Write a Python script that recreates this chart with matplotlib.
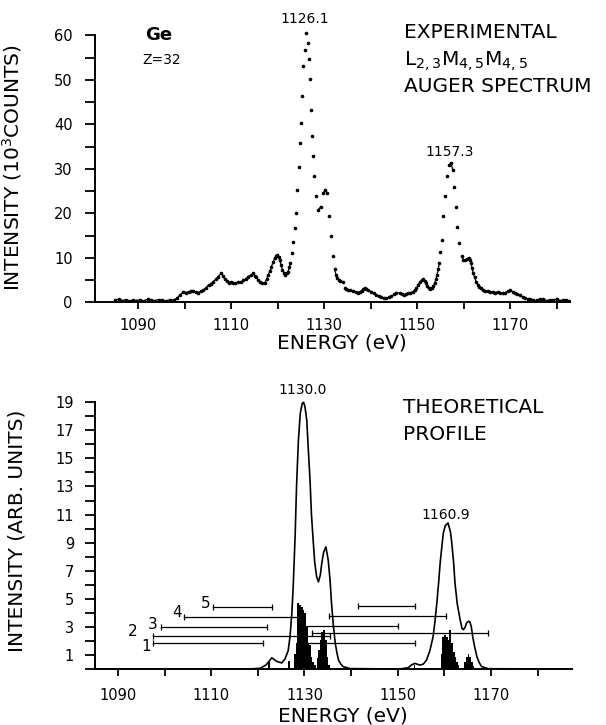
import numpy as np
import matplotlib
matplotlib.use('Agg')
import matplotlib.pyplot as plt
from matplotlib.ticker import MultipleLocator

plt.rcParams['font.family'] = 'DejaVu Sans'

# Espectro experimental (10^3 cuentas)
exp_energy = [1085.0, 1085.8, 1086.5, 1087.3, 1088.0, 1088.8, 1089.6, 1090.4, 1091.2, 1092.0,
              1092.8, 1093.6, 1094.4, 1095.2, 1096.0, 1096.8, 1097.6, 1098.3, 1099.0, 1099.7,
              1100.3, 1100.8, 1101.3, 1101.8, 1102.4, 1102.9, 1103.5, 1104.0, 1104.6, 1105.1,
              1105.6, 1106.1, 1106.7, 1107.2, 1107.8, 1108.2, 1108.6, 1109.0, 1109.4, 1109.9,
              1110.4, 1110.9, 1111.5, 1112.0, 1112.6, 1113.1, 1113.6, 1114.2, 1114.7, 1115.0,
              1115.4, 1115.8, 1116.2, 1116.7, 1117.2, 1117.6, 1117.9, 1118.3, 1118.6, 1119.0,
              1119.3, 1119.6, 1119.9, 1120.2, 1120.4, 1120.7, 1121.0, 1121.3, 1121.6, 1121.9,
              1122.2, 1122.5, 1122.7, 1123.0, 1123.3, 1123.6, 1123.9, 1124.2, 1124.55, 1124.8,
              1125.0, 1125.2, 1125.5, 1125.8, 1126.1, 1126.4, 1126.6, 1126.9, 1127.1, 1127.4,
              1127.6, 1127.8, 1128.2, 1128.7, 1129.2, 1129.7, 1130.2, 1130.6, 1131.1, 1131.4,
              1131.8, 1132.2, 1132.5, 1132.8, 1133.1, 1133.4, 1133.9, 1134.4, 1134.7, 1135.1,
              1135.6, 1136.2, 1136.7, 1137.3, 1137.6, 1138.0, 1138.3, 1138.7, 1139.0, 1139.4,
              1140.1, 1140.6, 1141.2, 1141.7, 1142.2, 1142.8, 1143.3, 1143.9, 1144.4, 1145.0,
              1145.5, 1146.2, 1146.6, 1147.1, 1147.5, 1148.0, 1148.5, 1149.0, 1149.4, 1149.8,
              1150.2, 1150.6, 1151.0, 1151.3, 1151.6, 1151.9, 1152.1, 1152.4, 1152.8, 1153.1,
              1153.4, 1153.7, 1154.0, 1154.2, 1154.5, 1154.7, 1154.95, 1155.2, 1155.6, 1156.0,
              1156.3, 1156.8, 1157.2, 1157.6, 1157.9, 1158.3, 1158.6, 1159.0, 1159.5, 1159.9,
              1160.3, 1160.7, 1161.0, 1161.3, 1161.5, 1161.8, 1162.0, 1162.3, 1162.6, 1163.0,
              1163.3, 1163.6, 1164.1, 1164.6, 1165.1, 1165.6, 1166.2, 1166.7, 1167.3, 1167.8,
              1168.4, 1168.9, 1169.4, 1169.9, 1170.5, 1171.0, 1171.5, 1172.0, 1172.6, 1173.1,
              1173.7, 1174.2, 1174.9, 1175.6, 1176.3, 1177.1, 1177.8, 1178.5, 1179.2, 1180.0,
              1180.7, 1181.4, 1182.0, 1182.5]
exp_counts = [0.5, 0.7, 0.4, 0.6, 0.3, 0.5, 0.4, 0.6, 0.3, 0.7,
              0.5, 0.4, 0.6, 0.5, 0.3, 0.6, 0.5, 0.9, 1.65, 2.4,
              2.2, 2.4, 2.5, 2.6, 2.3, 2.2, 2.5, 2.8, 3.3, 3.9,
              4.2, 4.65, 5.2, 5.8, 6.5, 5.9, 5.2, 4.7, 4.4, 4.6,
              4.4, 4.3, 4.65, 4.5, 5.0, 5.2, 5.8, 6.1, 6.5, 6.0,
              5.6, 5.0, 4.65, 4.3, 4.4, 5.2, 6.2, 7.0, 8.0, 9.0,
              9.9, 10.4, 10.7, 10.2, 9.5, 8.4, 7.3, 6.7, 6.2, 6.5,
              6.9, 8.0, 8.8, 11.0, 13.6, 16.8, 20.0, 25.3, 30.5, 35.8,
              40.3, 46.3, 53.1, 56.8, 60.6, 58.2, 54.6, 50.1, 43.3, 37.3,
              32.8, 28.3, 23.8, 20.8, 21.5, 24.5, 25.3, 24.5, 19.3, 14.8,
              10.3, 7.5, 6.2, 5.4, 5.0, 4.9, 4.65, 3.15, 2.9, 2.8,
              2.7, 2.6, 2.4, 2.2, 2.4, 2.6, 2.9, 3.15, 3.0, 2.8,
              2.4, 2.0, 1.65, 1.4, 1.1, 1.0, 0.9, 1.1, 1.4, 1.8,
              2.2, 2.0, 1.8, 1.65, 1.8, 2.0, 2.1, 2.4, 2.7, 3.15,
              3.9, 4.65, 5.0, 5.2, 4.8, 4.3, 3.6, 3.15, 3.1, 3.15,
              3.6, 4.3, 5.2, 6.2, 7.5, 8.8, 11.2, 14.0, 19.3, 23.8,
              28.3, 30.9, 31.3, 29.8, 26.0, 21.5, 17.0, 13.3, 10.3, 9.6,
              9.5, 9.8, 9.9, 9.4, 8.8, 7.6, 6.5, 5.6, 4.65, 4.0,
              3.5, 3.2, 2.8, 2.6, 2.5, 2.4, 2.3, 2.2, 2.3, 2.2,
              2.1, 2.2, 2.5, 2.8, 2.3, 2.0, 1.8, 1.65, 1.2, 0.9,
              0.8, 0.7, 0.5, 0.5, 0.7, 0.7, 0.4, 0.5, 0.6, 0.7,
              0.4, 0.5, 0.6, 0.4]

# Perfil teorico (unidades arbitrarias)
th_energy = [1085.0, 1118.0, 1120.5, 1121.8, 1123.0, 1124.0, 1125.1, 1125.8, 1126.5, 1126.9,
             1127.3, 1127.6, 1128.0, 1128.3, 1128.7, 1129.1, 1129.5, 1129.8, 1130.1, 1130.5,
             1130.8, 1131.2, 1131.5, 1131.9, 1132.2, 1132.6, 1133.0, 1133.4, 1133.7, 1134.1,
             1134.6, 1135.1, 1135.5, 1135.8, 1136.2, 1136.6, 1137.0, 1137.3, 1137.8, 1138.3,
             1139.8, 1150.5, 1152.3, 1153.0, 1153.7, 1154.3, 1154.8, 1155.5, 1156.2, 1156.9,
             1157.6, 1158.0, 1158.4, 1158.8, 1159.1, 1159.5, 1159.8, 1160.2, 1160.8, 1161.3,
             1161.6, 1162.0, 1162.3, 1162.8, 1163.4, 1163.8, 1164.1, 1164.5, 1164.8, 1165.2,
             1165.5, 1165.8, 1166.1, 1166.5, 1167.0, 1167.5, 1168.0, 1169.5, 1187.0]
th_intensity = [0.0, 0.0, 0.05, 0.3, 0.8, 0.55, 0.43, 0.7, 1.3, 2.3,
                4.0, 6.0, 9.5, 13.0, 16.3, 18.2, 18.9, 19.0, 18.7, 17.7,
                15.8, 13.4, 11.0, 9.0, 7.6, 6.6, 6.2, 6.7, 7.5, 8.3,
                8.7, 7.75, 6.3, 4.7, 3.1, 1.85, 1.1, 0.64, 0.35, 0.17,
                0.03, 0.0, 0.1, 0.3, 0.4, 0.33, 0.28, 0.35, 0.64, 1.3,
                2.3, 3.4, 4.7, 6.2, 7.5, 8.8, 9.7, 10.2, 10.4, 9.8,
                9.0, 7.6, 6.1, 4.6, 3.5, 2.9, 2.8, 3.0, 3.3, 3.4,
                3.35, 3.0, 2.3, 1.6, 0.87, 0.45, 0.17, 0.02, 0.0]

# Espectro de lineas
bar_energy = [1122.3, 1126.6, 1128.0, 1128.3, 1128.7, 1129.1, 1129.4, 1129.8, 1130.1, 1130.5,
              1130.8, 1131.2, 1131.5, 1131.9, 1132.3, 1132.8, 1133.1, 1133.5, 1133.8, 1134.2,
              1134.6, 1134.9, 1135.3, 1153.6, 1159.5, 1159.8, 1160.2, 1160.5, 1160.9, 1161.2,
              1161.6, 1162.0, 1162.3, 1162.7, 1163.0, 1164.5, 1164.8, 1165.2, 1165.5, 1165.9,
              1166.2]
bar_height = [0.5, 0.6, 1.1, 1.85, 4.7, 4.55, 4.4, 4.2, 4.0, 3.0,
              1.85, 1.7, 0.85, 0.5, 0.3, 0.8, 1.35, 2.05, 2.65, 2.8,
              2.05, 0.85, 0.3, 0.3, 1.1, 2.3, 2.4, 2.3, 2.05, 2.8,
              1.85, 1.2, 0.85, 0.5, 0.3, 0.5, 0.85, 1.1, 0.85, 0.5,
              0.2]

# Rangos de los multipletes 1-5 (L3 y L2)
range_names = ['1', '2', '3', '4', '5']
range_l3 = [(1097.5, 1121.0), (1097.5, 1135.5), (1099.2, 1122.0), (1104.2, 1129.3), (1110.4, 1123.0)]
range_l3_level = [1.85, 2.35, 3.0, 3.7, 4.4]
range_l2 = [(1130.2, 1153.7), (1131.6, 1169.4), (1130.0, 1150.0), (1135.3, 1160.4), (1141.5, 1153.7)]
range_l2_level = [1.87, 2.55, 3.08, 3.8, 4.5]
# donde van los numeros de cada rango
name_x = [1096.0, 1093.2, 1097.5, 1102.7, 1108.9]
name_y = [1.6, 2.65, 3.15, 4.0, 4.65]

W, H = 606, 725
fig = plt.figure(figsize=(W / 100, H / 100), dpi=100)


def px_axes(left, top, right, bottom):
    return fig.add_axes([left / W, 1 - bottom / H, (right - left) / W, (bottom - top) / H])


def style_axes(ax, ytop):
    ax.spines['top'].set_visible(False)
    ax.spines['right'].set_visible(False)
    ax.spines['left'].set_bounds(0, ytop)
    for s in ('left', 'bottom'):
        ax.spines[s].set_linewidth(1.4)
    ax.xaxis.set_major_locator(MultipleLocator(20))
    ax.xaxis.set_minor_locator(MultipleLocator(10))
    ax.tick_params(axis='x', which='both', direction='out', length=5, width=1.3,
                   labelsize=10.5, pad=6)
    ax.tick_params(axis='y', which='both', direction='out', length=7, width=1.3,
                   labelsize=10.5, pad=9)


# ---- panel superior ----
ax1 = px_axes(95, 27, 570, 302.3)
ax1.set_xlim(1080.7, 1182.8)
ax1.set_ylim(0, 61.9)
style_axes(ax1, 60)
ax1.set_xticks([1090, 1110, 1130, 1150, 1170])
ax1.yaxis.set_major_locator(MultipleLocator(10))
ax1.yaxis.set_minor_locator(MultipleLocator(5))

e = np.array(exp_energy)
c = np.array(exp_counts)
# linea solo donde los puntos estan juntos
jump = np.abs(np.diff(c)) > 1.5
for i in range(len(e) - 1):
    if not jump[i]:
        ax1.plot(e[i:i + 2], c[i:i + 2], 'k-', lw=0.9)
ax1.plot(e, c, 'ko', ms=1.6, ls='none')

ax1.set_xlabel('ENERGY (eV)', fontsize=14.5, labelpad=6)
ax1.xaxis.set_label_coords(0.52, -0.115)
ax1.set_ylabel('INTENSITY (10$^3$COUNTS)', fontsize=14.5)
ax1.yaxis.set_label_coords(-0.15, 0.49)

ax1.text(1125.85, 63.8, '1126.1', fontsize=10, ha='center', va='center')
ax1.text(1157.0, 33.7, '1157.3', fontsize=10, ha='center', va='center')

fig.text(145 / W, 1 - 35 / H, 'Ge', fontsize=13, fontweight='bold', va='center')
fig.text(142 / W, 1 - 60 / H, 'Z=32', fontsize=10, va='center')
fig.text(404 / W, 1 - 33 / H, 'EXPERIMENTAL', fontsize=14.5, va='center')
fig.text(404 / W, 1 - 66 / H, 'L$_{2,3}$M$_{4,5}$M$_{4,5}$', fontsize=14.5, va='baseline')
fig.text(404 / W, 1 - 86 / H, 'AUGER SPECTRUM', fontsize=14.5, va='center')

# ---- panel inferior ----
ax2 = px_axes(95, 393.4, 572, 669)
ax2.set_xlim(1085.06, 1187.4)
ax2.set_ylim(0, 19.63)
style_axes(ax2, 19)
ax2.set_xticks([1090, 1110, 1130, 1150, 1170])
ax2.set_yticks([1, 3, 5, 7, 9, 11, 13, 15, 17, 19])
ax2.yaxis.set_minor_locator(MultipleLocator(1))
ax2.tick_params(axis='x', pad=9)
ax2.tick_params(axis='y', pad=8)

ax2.bar(bar_energy, bar_height, width=0.4, color='black', linewidth=0)
ax2.plot(th_energy, th_intensity, 'k-', lw=1.2)

for (a, b), lv in zip(range_l3, range_l3_level):
    ax2.plot([a, b], [lv, lv], 'k-', lw=0.9, marker='|', ms=4, mew=0.9)
for (a, b), lv in zip(range_l2, range_l2_level):
    ax2.plot([a, b], [lv, lv], 'k-', lw=0.9, marker='|', ms=4, mew=0.9)
for name, nx, ny in zip(range_names, name_x, name_y):
    ax2.text(nx, ny, name, fontsize=11, ha='center', va='center')

ax2.set_xlabel('ENERGY (eV)', fontsize=14.5)
ax2.xaxis.set_label_coords(0.52, -0.135)
ax2.set_ylabel('INTENSITY (ARB. UNITS)', fontsize=14.5)
ax2.yaxis.set_label_coords(-0.143, 0.5)

ax2.text(1129.7, 19.9, '1130.0', fontsize=10, ha='center', va='center')
ax2.text(1160.3, 11.0, '1160.9', fontsize=10, ha='center', va='center')

fig.text(403 / W, 1 - 407.5 / H, 'THEORETICAL', fontsize=14.5, va='center')
fig.text(403 / W, 1 - 434.5 / H, 'PROFILE', fontsize=14.5, va='center')

fig.savefig('out.png', dpi=100)
